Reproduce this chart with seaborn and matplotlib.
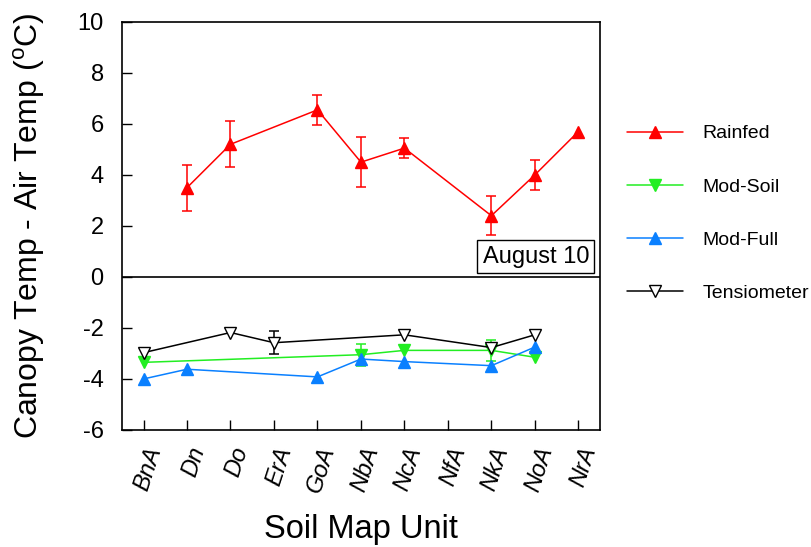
import numpy as np
import pandas as pd
import matplotlib
matplotlib.use("Agg")
import matplotlib.pyplot as plt
import matplotlib.lines as mlines
import seaborn as sns

# soil map units on the x axis
cats = ['BnA', 'Dn', 'Do', 'ErA', 'GoA', 'NbA', 'NcA', 'NfA', 'NkA', 'NoA', 'NrA']
nan = np.nan

# canopy - air temperature per treatment (deg C), with std errors
rainfed = [nan, 3.5, 5.2, nan, 6.55, 4.5, 5.05, nan, 2.4, 4.0, 5.7]
rainfed_err = [nan, 0.9, 0.9, nan, 0.58, 0.98, 0.4, nan, 0.76, 0.6, nan]
mod_soil = [-3.35, nan, nan, nan, nan, -3.05, -2.88, nan, -2.88, -3.15, nan]
mod_soil_err = [nan, nan, nan, nan, nan, 0.43, nan, nan, 0.42, nan, nan]
mod_full = [-4.0, -3.62, nan, nan, -3.92, -3.22, -3.32, nan, -3.48, -2.75, nan]
tens = [-2.97, nan, -2.18, -2.58, nan, nan, -2.27, nan, -2.77, -2.27, nan]
tens_err = [nan, nan, nan, 0.45, nan, nan, nan, nan, nan, nan, nan]

series = [
    ('Rainfed', rainfed, rainfed_err, '^', '#ff0000', '#ff0000'),
    ('Mod-Soil', mod_soil, mod_soil_err, 'v', '#22ee22', '#22ee22'),
    ('Mod-Full', mod_full, [nan] * len(cats), '^', '#0a80ff', '#0a80ff'),
    ('Tensiometer', tens, tens_err, 'v', '#000000', 'white'),
]

sns.set_style('ticks')
plt.rcParams['font.family'] = ['Liberation Sans', 'DejaVu Sans']
plt.rcParams['mathtext.fontset'] = 'custom'
plt.rcParams['mathtext.rm'] = 'Liberation Sans'
plt.rcParams['axes.unicode_minus'] = False
plt.rcParams['xtick.direction'] = 'in'
plt.rcParams['ytick.direction'] = 'in'
for k in ['text.color', 'axes.labelcolor', 'xtick.color', 'ytick.color', 'axes.edgecolor']:
    plt.rcParams[k] = 'black'

fig = plt.figure(figsize=(8.12, 5.47), dpi=100)
ax = fig.add_axes([0.150, 0.214, 0.589, 0.746])

xpos = np.arange(len(cats))
for name, vals, errs, mk, col, face in series:
    df = pd.DataFrame({'x': xpos, 'y': vals, 'err': errs}).dropna(subset=['y'])
    sns.lineplot(data=df, x='x', y='y', ax=ax, color=col, marker=mk,
                 markersize=9, markerfacecolor=face, markeredgecolor=col,
                 markeredgewidth=1.0, linewidth=1.1, label=name, zorder=3)
    e = df.dropna(subset=['err'])
    if len(e):
        ax.errorbar(e['x'], e['y'], yerr=e['err'], fmt='none', ecolor=col,
                    elinewidth=1.1, capsize=3.6, capthick=1.1, zorder=2)

ax.axhline(0, color='black', lw=1.2, zorder=1)

ax.set_xlim(-0.5, 10.5)
ax.set_ylim(-6, 10)
ax.set_yticks(range(-6, 11, 2))
ax.set_xticks(xpos)
ax.set_xticklabels(cats, rotation=72, ha='right', va='top',
                   rotation_mode='anchor', style='italic', fontsize=17)
ax.tick_params(axis='y', direction='in', length=7, width=1, pad=13, labelsize=17,
               left=True, right=False)
ax.tick_params(axis='x', direction='in', length=7, width=1, pad=10,
               bottom=True, top=False)
# make sure the tick marks point into the plot
for t in ax.yaxis.get_major_ticks():
    t.tick1line.set_marker(mlines.TICKRIGHT)
for t in ax.xaxis.get_major_ticks():
    t.tick1line.set_marker(mlines.TICKUP)
for s in ax.spines.values():
    s.set_color('black')
    s.set_linewidth(1.2)

ax.set_xlabel('Soil Map Unit', fontsize=23.5)
ax.set_ylabel(r'Canopy Temp - Air Temp ($^{\mathrm{o}}$C)', fontsize=23)
ax.xaxis.set_label_coords(0.5, -0.205)
ax.yaxis.set_label_coords(-0.157, 0.5)

ax.text(0.977, 0.398, 'August 10', transform=ax.transAxes, ha='right', va='bottom',
        fontsize=17, bbox=dict(boxstyle='square,pad=0.22', fc='white', ec='black', lw=1))

handles, labels = ax.get_legend_handles_labels()
ax.legend(handles, labels, loc='upper left', bbox_to_anchor=(0.772, 0.772),
          bbox_transform=fig.transFigure, frameon=False, fontsize=14,
          handlelength=2.9, handletextpad=1.0, labelspacing=1.83,
          borderpad=0, borderaxespad=0, numpoints=1)

fig.savefig('out.png', dpi=100)
